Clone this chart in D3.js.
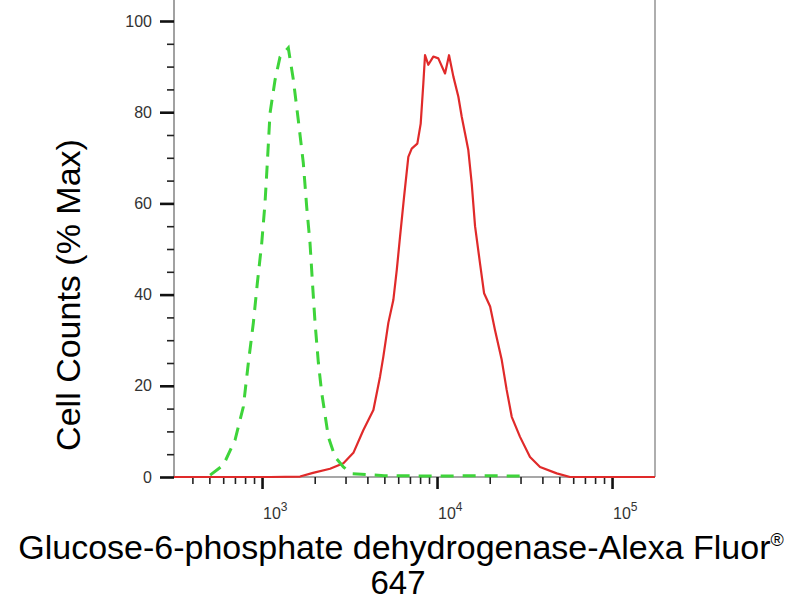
<!DOCTYPE html>
<html>
<head>
<meta charset="utf-8">
<script src="https://cdn.jsdelivr.net/npm/d3@7"></script>
<style>
  html, body { margin: 0; padding: 0; background: #fff; }
  svg { display: block; }
  text { font-family: "Liberation Sans", Arial, sans-serif; }
</style>
</head>
<body>
<svg id="chart" width="800" height="600"></svg>
<script>
// ---- data ----
const isotypeIntensity = [505, 601, 701, 782, 835, 892, 940, 996, 1040, 1072, 1111, 1187, 1267, 1413, 1510, 1611, 1721, 1800, 1880, 1948, 2009, 2099, 2194, 2393, 2614, 2915, 3268, 5000, 10000, 20000, 30000];
const isotypeCounts    = [0.4, 2.6, 8.1, 15.4, 25.0, 33.8, 42.5, 51.3, 60.1, 68.9, 79.8, 87.1, 92.1, 94.1, 87.1, 78.3, 68.9, 59.2, 51.3, 41.7, 33.8, 25.0, 18.4, 8.8, 4.4, 2.2, 0.7, 0.3, 0.2, 0.3, 0.2];

const sampleIntensity = [314, 575, 1111, 1649, 1955, 2447, 2918, 3327, 3795, 4328, 4723, 4934, 5269, 5627, 5888, 6146, 6478, 6855, 7166, 7716, 8066, 8350, 8538, 8918, 9521, 10170, 11110, 11710, 12400, 13240, 13840, 14450, 15090, 15780, 16490, 17610, 18570, 20110, 21450, 23420, 25000, 26720, 29800, 33980, 38780, 48310, 57540, 176000];
const sampleCounts    = [0, 0, 0, 0.1, 0.9, 1.8, 3.0, 5.3, 10.3, 14.7, 22.0, 26.4, 33.8, 38.8, 45.4, 52.7, 61.4, 70.2, 72.0, 73.1, 77.5, 86.3, 92.5, 90.4, 92.2, 91.8, 88.5, 92.5, 87.8, 83.4, 79.0, 75.4, 71.7, 64.4, 55.0, 46.8, 40.3, 37.4, 32.2, 25.7, 19.1, 13.2, 8.8, 4.4, 2.2, 0.8, 0, 0];

const yMajorTicks = [0, 20, 40, 60, 80, 100];
const yMinorTicks = [5, 10, 15, 25, 30, 35, 45, 50, 55, 65, 70, 75, 85, 90, 95];
const xDecades = [1000, 10000, 100000];
const xDecadeExponents = ["3", "4", "5"];
const xMinorTicks = [400, 500, 600, 700, 800, 900, 2000, 3000, 4000, 5000, 6000, 7000, 8000, 9000, 20000, 30000, 40000, 50000, 60000, 70000, 80000, 90000];
const xDomain = [314, 176000];
const yTitle = "Cell Counts (% Max)";
const xTitleLine1 = "Glucose-6-phosphate dehydrogenase-Alexa Fluor";
const xTitleLine2 = "647";

// ---- layout ----
const plotLeft = 174, plotRight = 655, plotBottom = 477, plotTop = 21;
const svg = d3.select("#chart");

const x = d3.scaleLog().domain(xDomain).range([plotLeft, plotRight]);
const y = d3.scaleLinear().domain([0, 100]).range([plotBottom, plotTop]);

// frame lines (gray)
svg.append("line").attr("x1", plotLeft).attr("x2", plotLeft).attr("y1", 0).attr("y2", plotBottom)
  .attr("stroke", "#8a8a8a").attr("stroke-width", 1.6);
svg.append("line").attr("x1", plotRight).attr("x2", plotRight).attr("y1", 0).attr("y2", plotBottom)
  .attr("stroke", "#9a9a9a").attr("stroke-width", 1.6);
svg.append("line").attr("x1", plotLeft).attr("x2", plotRight).attr("y1", plotBottom).attr("y2", plotBottom)
  .attr("stroke", "#8a8a8a").attr("stroke-width", 1.6);

// y axis ticks
const yMajor = svg.append("g").attr("transform", `translate(${plotLeft},0)`)
  .call(d3.axisLeft(y).tickValues(yMajorTicks).tickSize(14).tickPadding(8).tickFormat(d3.format("d")));
yMajor.select(".domain").remove();
yMajor.selectAll(".tick line").attr("stroke", "#111").attr("stroke-width", 2.6);
yMajor.selectAll(".tick text").attr("fill", "#333").style("font-size", "16px")
  .style("font-family", "'Liberation Sans', Arial, sans-serif");

const yMinor = svg.append("g").attr("transform", `translate(${plotLeft},0)`)
  .call(d3.axisLeft(y).tickValues(yMinorTicks).tickSize(7).tickFormat(""));
yMinor.select(".domain").remove();
yMinor.selectAll(".tick line").attr("stroke", "#222").attr("stroke-width", 1.6);

// x axis ticks
const xMajor = svg.append("g").attr("transform", `translate(0,${plotBottom})`)
  .call(d3.axisBottom(x).tickValues(xDecades).tickSize(12).tickFormat(""));
xMajor.select(".domain").remove();
xMajor.selectAll(".tick line").attr("stroke", "#111").attr("stroke-width", 2.6);

const xMinor = svg.append("g").attr("transform", `translate(0,${plotBottom})`)
  .call(d3.axisBottom(x).tickValues(xMinorTicks).tickSize(7).tickFormat(""));
xMinor.select(".domain").remove();
xMinor.selectAll(".tick line").attr("stroke", "#222").attr("stroke-width", 1.6);

// decade labels 10^n
const xl = svg.append("g").selectAll("text").data(xDecades).join("text")
  .attr("x", d => x(d) + 1).attr("y", 519)
  .attr("fill", "#333").style("font-size", "16px");
xl.append("tspan").text("10");
xl.append("tspan").attr("dy", -8).style("font-size", "12px").text((d, i) => xDecadeExponents[i]);

// curves
const line = d3.line().x(d => x(d[0])).y(d => y(d[1]));
const sampleData = sampleIntensity.map((v, i) => [v, sampleCounts[i]]);
const isoData = isotypeIntensity.map((v, i) => [v, isotypeCounts[i]]);

svg.append("path").datum(sampleData).attr("d", line)
  .attr("fill", "none").attr("stroke", "#e02a2a").attr("stroke-width", 2.2)
  .attr("stroke-linejoin", "round");
svg.append("path").datum(isoData).attr("d", line)
  .attr("fill", "none").attr("stroke", "#3ed43a").attr("stroke-width", 3)
  .attr("stroke-dasharray", "13,9");

// titles
svg.append("text").attr("transform", "translate(80,295) rotate(-90)")
  .attr("text-anchor", "middle").attr("fill", "#000").style("font-size", "34px")
  .text(yTitle);

const t1 = svg.append("text").attr("x", 401).attr("y", 559).attr("text-anchor", "middle")
  .attr("fill", "#000").style("font-size", "34px");
t1.append("tspan").text(xTitleLine1);
t1.append("tspan").attr("dy", -13).style("font-size", "18px").text("®");

svg.append("text").attr("x", 398).attr("y", 594).attr("text-anchor", "middle")
  .attr("fill", "#000").style("font-size", "33px").text(xTitleLine2);
</script>
</body>
</html>
